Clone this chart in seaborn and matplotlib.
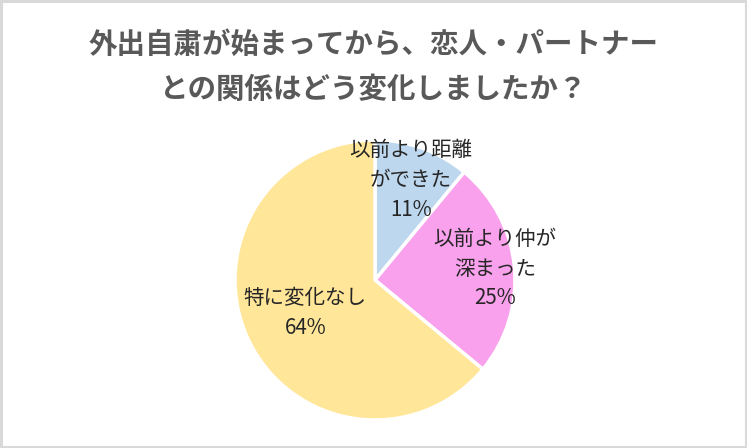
import numpy as np
import matplotlib
matplotlib.use("Agg")
import matplotlib.pyplot as plt
from matplotlib.patches import Rectangle
import seaborn as sns

title_lines = ["外出自粛が始まってから、恋人・パートナー", "との関係はどう変化しましたか？"]
categories = ["以前より距離\nができた", "以前より仲が\n深まった", "特に変化なし"]
values = [11, 25, 64]
colors_hex = ["#BDD7EE", "#F9A1EC", "#FFE699"]
label_dist = [0.76, 0.86, 0.55]

sns.set_theme(style="white")
plt.rcParams['font.family'] = ['Noto Sans CJK JP', 'DejaVu Sans']

W, H = 747, 448
fig = plt.figure(figsize=(W / 100, H / 100), dpi=100)
fig.patch.set_facecolor("white")

cx, cy, R = 375, 280, 140
ax = fig.add_axes([(cx - R) / W, (H - cy - R) / H, 2 * R / W, 2 * R / H])
palette = sns.color_palette(colors_hex)
wedges, _ = ax.pie(values, colors=palette, startangle=90, counterclock=False,
                   radius=1.0, wedgeprops=dict(edgecolor="white", linewidth=2.5))
for w in wedges:
    w.set_clip_on(False)
ax.set_xlim(-1, 1)
ax.set_ylim(-1, 1)
ax.axis("off")

for w, cat, v, d in zip(wedges, categories, values, label_dist):
    ang = np.deg2rad((w.theta1 + w.theta2) / 2)
    x, y = d * np.cos(ang), d * np.sin(ang)
    ax.text(x, y, f"{cat}\n{v}%", ha="center", va="center", fontsize=14.8,
            color="#262626", linespacing=1.45)

fig.text(0.5, 1 - 45 / H, title_lines[0], ha="center", va="center",
         fontsize=20.5, fontweight="bold", color="#595959")
fig.text(0.5, 1 - 90 / H, title_lines[1], ha="center", va="center",
         fontsize=20.5, fontweight="bold", color="#595959")

fig.patches.append(Rectangle((1 / W, 1 / H), 1 - 2.5 / W, 1 - 2.5 / H,
                             transform=fig.transFigure, fill=False,
                             edgecolor="#D9D9D9", linewidth=2.2))

fig.savefig("out.png", dpi=100, facecolor="white")
